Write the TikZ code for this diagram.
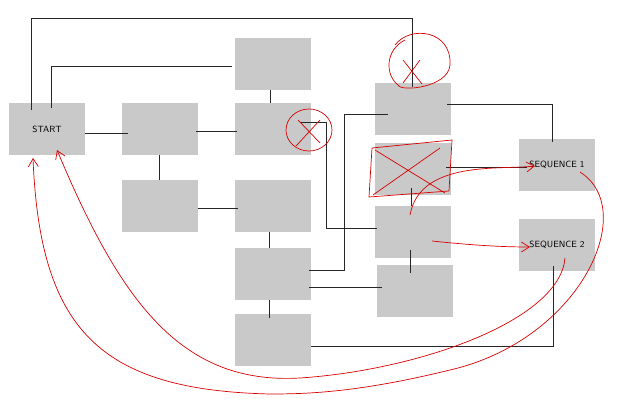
\documentclass[tikz,border=0pt]{standalone}
\usetikzlibrary{arrows.meta}
\begin{document}
\begin{tikzpicture}[x=1pt,y=-1pt,
  box/.style={fill=black!21,draw=none,minimum width=76pt,minimum height=52pt,inner sep=0pt,font=\sffamily\fontsize{9}{10}\selectfont},
  ln/.style={draw=black!85,line width=0.8pt},
  rd/.style={draw=red!85!black,line width=0.7pt},
  ra/.style={rd,-{Straight Barb[length=8pt,width=10pt]}}]
\useasboundingbox (0,0) rectangle (619,409);
\node[box] (start) at (47,129) {START};
\node[box] (b2) at (160,129) {};
\node[box] (b2b) at (160,206) {};
\node[box] (c1) at (273,64) {};
\node[box] (c2) at (273,129) {};
\node[box] (c3) at (273,206) {};
\node[box] (c4) at (273,274) {};
\node[box] (c5) at (273,340) {};
\node[box] (d1) at (413,109) {};
\node[box] (d2) at (413,169) {};
\node[box] (d3) at (413,232) {};
\node[box] (d4) at (415,291) {};
\node[box] (s1) at (557,165) {SEQUENCE 1};
\node[box] (s2) at (557,245) {SEQUENCE 2};
% black connectors
\draw[ln] (31,110) |- (412,18) -- (412,87);
\draw[ln] (51,108) |- (232,66);
\draw[ln] (85,133) -- (128,133);
\draw[ln] (196,131) -- (237,131);
\draw[ln] (159,155) -- (159,180);
\draw[ln] (198,208) -- (238,208);
\draw[ln] (270,90) -- (270,103);
\draw[ln] (300,122) -| (326,228) -- (377,228);
\draw[ln] (269,232) -- (269,248);
\draw[ln] (309,270) -| (344,114) -- (388,114);
\draw[ln] (309,287) -- (382,287);
\draw[ln] (269,300) -- (269,318);
\draw[ln] (311,346) -| (553,266);
\draw[ln] (447,104) -| (552,142);
\draw[ln] (446,167) -- (527,167);
\draw[ln] (411,188) -- (411,206);
\draw[ln] (410,250) -- (410,273);
% red marks
\draw[rd] (395,45) .. controls (410,25) and (452,30) .. (450,65) .. controls (448,88) and (400,92) .. (398,85) .. controls (385,75) and (385,50) .. (405,40);
\draw[rd] (403,60) -- (422,84) (420,60) -- (403,83);
\draw[rd] (309,130) circle[x radius=23pt,y radius=21pt];
\draw[rd] (298,120) -- (320,143) (320,120) -- (296,146);
\draw[rd] (372,148) -- (452,140) -- (449,191) -- (369,197) -- cycle;
\draw[rd] (375,150) -- (445,193) (440,148) -- (373,195);
% red arrows
\draw[ra] (410,215) .. controls (420,160) and (500,170) .. (535,166);
\draw[ra] (432,241) .. controls (470,245) and (500,247) .. (530,247);
\draw[ra] (580,172) .. controls (640,210) and (580,340) .. (450,370) .. controls (360,392) and (310,394) .. (270,394) .. controls (100,390) and (40,330) .. (33,158);
\draw[ra] (565,258) .. controls (560,320) and (420,370) .. (300,378) .. controls (180,385) and (120,300) .. (57,150);
\end{tikzpicture}
\end{document}
